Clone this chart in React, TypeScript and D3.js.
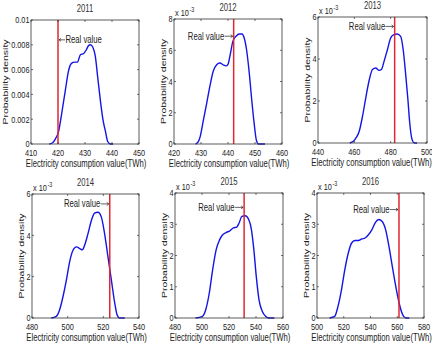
import React from "react";
import * as d3 from "d3";

// chart data
const years = ["2011", "2012", "2013", "2014", "2015", "2016"];
const xDomains = [[410, 450], [420, 460], [440, 500], [480, 540], [480, 560], [500, 580]];
const xTickValues = [
  [410, 420, 430, 440, 450],
  [420, 430, 440, 450, 460],
  [440, 460, 480, 500],
  [480, 500, 520, 540],
  [480, 500, 520, 540, 560],
  [500, 520, 540, 560, 580],
];
const yMaxes = [0.01, 8, 6, 6, 4, 4];
const yTickValues = [
  [0, 0.002, 0.004, 0.006, 0.008, 0.01],
  [0, 2, 4, 6, 8],
  [0, 2, 4, 6],
  [0, 2, 4, 6],
  [0, 1, 2, 3, 4],
  [0, 1, 2, 3, 4],
];
const yTickLabels2011 = ["0", "0.002", "0.004", "0.006", "0.008", "0.01"];
const scaledByThousand = [false, true, true, true, true, true];
const realValues = [420, 442.1, 482.2, 523.6, 531.2, 561.3];
const realLabelHeights = [0.0084, 6.9, 5.55, 5.52, 3.54, 3.47];

const density2011 = [
  [416.8, 0], [418.0, 0.0001], [419.0, 0.0004], [420.2, 0.001], [421.4, 0.0025], [422.7, 0.0043],
  [423.9, 0.0059], [425.0, 0.0065], [426.2, 0.0066], [427.2, 0.0066], [428.3, 0.0072], [429.5, 0.0073],
  [430.5, 0.0076], [431.2, 0.0079], [432.0, 0.008], [432.9, 0.0078], [433.8, 0.0071], [434.7, 0.0054],
  [435.7, 0.0035], [436.7, 0.0019], [437.6, 0.001], [438.4, 0.0002], [439.4, 0], [440.4, 0],
];
const density2012 = [
  [428.0, 0], [429.0, 0.15], [429.7, 0.47], [430.9, 1.54], [432.1, 2.6], [433.3, 3.7], [434.5, 4.64],
  [435.8, 5.07], [437.0, 5.18], [438.2, 5.07], [439.2, 5.0], [440.0, 5.1], [440.8, 5.7], [441.8, 6.57],
  [443.0, 6.9], [444.2, 7.04], [445.2, 7.04], [446.0, 6.78], [446.9, 6.0], [447.9, 4.5], [448.8, 2.8],
  [449.7, 1.3], [450.5, 0.25], [451.3, 0], [453.7, 0],
];
const density2013 = [
  [457.5, 0], [459.5, 0.08], [460.9, 0.24], [462.7, 0.56], [464.5, 1.27], [466.4, 2.2], [468.2, 3.0],
  [470.0, 3.5], [471.8, 3.57], [473.6, 3.46], [474.9, 3.5], [476.4, 3.9], [478.2, 4.44], [480.0, 5.0],
  [481.8, 5.16], [483.6, 5.19], [485.5, 5.08], [486.9, 4.44], [488.2, 3.33], [489.5, 2.06], [490.5, 0.95],
  [491.8, 0.16], [493.1, 0], [494.5, 0],
];
const density2014 = [
  [490.8, 0], [493.6, 0.08], [495.5, 0.4], [497.4, 1.04], [499.3, 1.84], [501.1, 2.72], [503.0, 3.28],
  [504.9, 3.44], [506.8, 3.36], [508.2, 3.3], [509.5, 3.52], [511.4, 4.08], [513.3, 4.72], [515.1, 5.07],
  [517.0, 5.12], [518.9, 4.88], [520.7, 4.08], [522.6, 2.96], [524.5, 1.84], [526.4, 0.72], [527.7, 0.16],
  [529.2, 0], [532.0, 0],
];
const density2015 = [
  [495.2, 0], [500.3, 0.05], [502.8, 0.27], [505.4, 0.8], [507.9, 1.55], [510.5, 2.19], [513.0, 2.5],
  [515.5, 2.67], [518.1, 2.74], [520.6, 2.79], [523.1, 2.88], [525.7, 2.91], [527.5, 3.04], [529.5, 3.25],
  [532.0, 3.27], [534.6, 3.15], [536.6, 2.83], [538.4, 2.19], [540.2, 1.33], [542.2, 0.59], [544.7, 0.21],
  [547.3, 0.05], [549.3, 0], [553.6, 0],
];
const density2016 = [
  [509.4, 0], [513.2, 0.05], [515.7, 0.37], [518.3, 0.9], [520.8, 1.55], [523.4, 2.08], [525.9, 2.4],
  [528.4, 2.48], [531.0, 2.48], [533.5, 2.53], [536.0, 2.56], [538.6, 2.67], [541.1, 2.83], [543.7, 3.06],
  [546.2, 3.15], [548.7, 3.09], [551.3, 2.83], [553.8, 2.29], [556.3, 1.65], [558.9, 1.01], [561.4, 0.48],
  [564.0, 0.11], [566.5, 0], [569.0, 0],
];
const densities = [density2011, density2012, density2013, density2014, density2015, density2016];

// layout of the six axes boxes (pixels)
const boxes = [
  { l: 31, r: 139, t: 20, b: 144 },
  { l: 174, r: 282, t: 19, b: 144 },
  { l: 318, r: 427, t: 17, b: 143 },
  { l: 32, r: 139, t: 194, b: 318 },
  { l: 175, r: 283, t: 193, b: 318 },
  { l: 317, r: 424, t: 193, b: 318 },
];

const SX = 0.77; // the picture is squeezed horizontally
const FONT = "'Liberation Sans', Arial, Helvetica, sans-serif";
const TEXT = "#222";

const Txt = ({ x, y, anchor = "start", size = 10, rotate = false, dy = "0", fill = TEXT, children }: any) => (
  <text
    transform={`translate(${x},${y}) scale(${SX},1)${rotate ? " rotate(-90)" : ""}`}
    textAnchor={anchor}
    fontSize={size}
    fontWeight="normal"
    fontFamily={FONT}
    fill={fill}
    dy={dy}
  >
    {children}
  </text>
);

const Panel = ({ i }: { i: number }) => {
  const box = boxes[i];
  const x = d3.scaleLinear().domain(xDomains[i]).range([box.l, box.r]);
  const y = d3.scaleLinear().domain([0, yMaxes[i]]).range([box.b, box.t]);
  const line = d3
    .line<number[]>()
    .x((d) => x(d[0]))
    .y((d) => y(d[1]))
    .curve(d3.curveMonotoneX);
  const cx = (box.l + box.r) / 2;
  const cy = (box.t + box.b) / 2;
  const rx = x(realValues[i]);
  const ly = y(realLabelHeights[i]);
  const tick = 2;
  const axisColor = "#333";
  const leftArrow = i === 0;

  return (
    <g>
      {/* density curve */}
      <path d={line(densities[i]) || ""} fill="none" stroke="#1414e6" strokeWidth={1.4} />
      {/* real value line */}
      <line x1={rx} x2={rx} y1={y(0)} y2={y(yMaxes[i])} stroke="#e32630" strokeWidth={1.5} />

      {/* box and ticks */}
      <rect x={box.l} y={box.t} width={box.r - box.l} height={box.b - box.t} fill="none" stroke={axisColor} strokeWidth={0.8} />
      {xTickValues[i].map((v) => (
        <g key={"x" + v}>
          <line x1={x(v)} x2={x(v)} y1={box.b} y2={box.b - tick} stroke={axisColor} strokeWidth={0.7} />
          <line x1={x(v)} x2={x(v)} y1={box.t} y2={box.t + tick} stroke={axisColor} strokeWidth={0.7} />
          <Txt x={x(v)} y={box.b + 11.5} anchor="middle" size={9.5}>{v}</Txt>
        </g>
      ))}
      {yTickValues[i].map((v, k) => (
        <g key={"y" + v}>
          <line x1={box.l} x2={box.l + tick} y1={y(v)} y2={y(v)} stroke={axisColor} strokeWidth={0.7} />
          <line x1={box.r} x2={box.r - tick} y1={y(v)} y2={y(v)} stroke={axisColor} strokeWidth={0.7} />
          <Txt x={box.l - 1.5} y={y(v)} anchor="end" dy="0.35em" size={9.5}>
            {i === 0 ? yTickLabels2011[k] : v}
          </Txt>
        </g>
      ))}

      {/* multiplier */}
      {scaledByThousand[i] && (
        <g>
          <Txt x={box.l + 1} y={box.t - 3} size={9.5}>x 10</Txt>
          <Txt x={box.l + 15.5} y={box.t - 7.5} size={7}>-3</Txt>
        </g>
      )}

      {/* titles and axis labels */}
      <Txt x={cx} y={box.t - 8} anchor="middle" size={10} fill="#333">{years[i]}</Txt>
      <Txt x={i === 2 ? cx - 1 : cx + 1} y={box.b + 22.5} anchor="middle" size={10}>
        Electricity consumption value(TWh)
      </Txt>
      <Txt x={i === 0 ? box.l - 23 : box.l - 8.5} y={cy} anchor="middle" size={10.5} rotate>
        Probability density
      </Txt>

      {/* real value annotation */}
      {leftArrow ? (
        <g>
          <line x1={rx + 1} x2={rx + 7} y1={ly} y2={ly} stroke="#222" strokeWidth={0.7} />
          <path d={`M${rx + 3},${ly - 1.5}L${rx + 1},${ly}L${rx + 3},${ly + 1.5}`} fill="none" stroke="#222" strokeWidth={0.7} />
          <Txt x={rx + 7.5} y={ly} dy="0.35em">Real value</Txt>
        </g>
      ) : (
        <g>
          <line x1={rx - 9} x2={rx - 1} y1={ly} y2={ly} stroke="#222" strokeWidth={0.7} />
          <path d={`M${rx - 3},${ly - 1.5}L${rx - 1},${ly}L${rx - 3},${ly + 1.5}`} fill="none" stroke="#222" strokeWidth={0.7} />
          <Txt x={rx - 9.5} y={ly} anchor="end" dy="0.35em">Real value</Txt>
        </g>
      )}
    </g>
  );
};

export default function App() {
  return (
    <svg
      width={432}
      height={351}
      viewBox="0 0 432 351"
      style={{ position: "absolute", left: 0, top: 0, background: "#fff" }}
    >
      <rect width={432} height={351} fill="#fff" />
      {years.map((_, i) => (
        <Panel key={i} i={i} />
      ))}
    </svg>
  );
}
